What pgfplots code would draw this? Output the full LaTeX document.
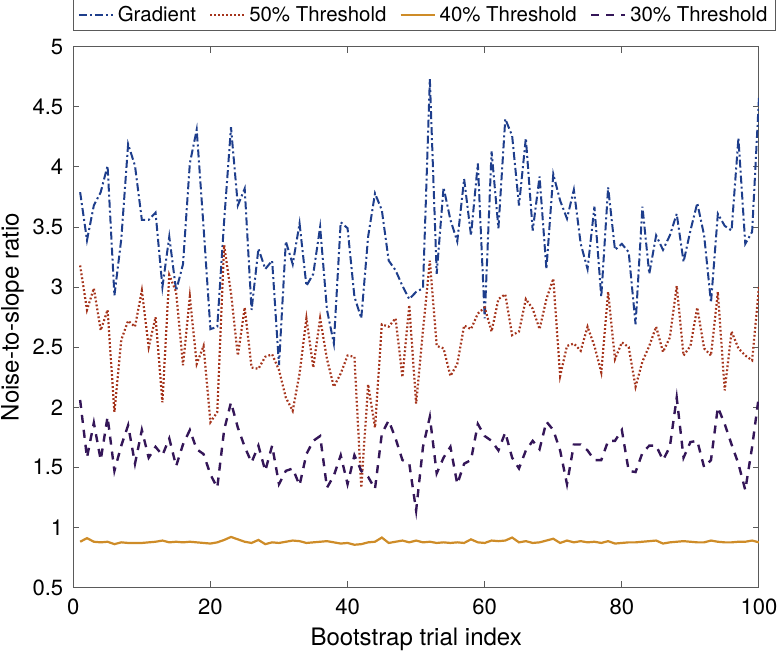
\documentclass[border=0pt]{standalone}
\usepackage{fontspec}
\setmainfont{TeX Gyre Heros}
\usepackage{pgfplots}
\usepackage{pgfplotstable}
\pgfplotsset{compat=1.18}
\definecolor{cgrad}{RGB}{30,62,140}
\definecolor{cfifty}{RGB}{165,52,28}
\definecolor{cforty}{RGB}{206,140,40}
\definecolor{cthirty}{RGB}{52,22,88}
\definecolor{caxis}{RGB}{90,90,90}

\pgfplotstableread{
i G H F T
1 3.79 3.18 0.88 2.06
2 3.39 2.81 0.91 1.58
3 3.68 2.99 0.88 1.87
4 3.79 2.64 0.875 1.56
5 4.01 2.81 0.88 1.92
6 2.93 1.96 0.86 1.47
7 3.40 2.56 0.875 1.68
8 4.19 2.72 0.87 1.85
9 4.01 2.67 0.87 1.53
10 3.56 2.97 0.87 1.81
11 3.56 2.50 0.875 1.58
12 3.62 2.75 0.88 1.67
13 3.00 2.04 0.89 1.60
14 3.42 3.10 0.875 1.74
15 2.97 2.96 0.88 1.51
16 3.19 2.35 0.875 1.69
17 4.03 2.92 0.88 1.81
18 4.31 2.36 0.875 1.65
19 3.50 2.51 0.87 1.61
20 2.65 1.875 0.865 1.44
21 2.67 1.96 0.875 1.33
22 3.55 3.35 0.895 1.81
23 4.33 2.95 0.92 2.04
24 3.68 2.43 0.90 1.83
25 3.82 2.83 0.88 1.67
26 2.81 2.33 0.87 1.54
27 3.32 2.32 0.895 1.68
28 3.15 2.42 0.86 1.47
29 3.22 2.44 0.875 1.68
30 2.35 2.31 0.87 1.36
31 3.38 2.08 0.88 1.47
32 3.19 1.97 0.89 1.49
33 3.53 2.28 0.885 1.35
34 3.01 2.74 0.87 1.61
35 3.11 2.33 0.875 1.72
36 3.50 2.74 0.88 1.76
37 2.81 2.40 0.885 1.33
38 2.53 2.17 0.875 1.43
39 3.54 2.28 0.865 1.60
40 3.49 2.43 0.87 1.36
41 2.92 2.42 0.855 1.60
42 2.74 1.33 0.86 1.47
43 3.42 2.19 0.875 1.42
44 3.78 1.83 0.88 1.32
45 3.64 2.69 0.915 1.78
46 3.22 2.67 0.87 1.89
47 3.14 2.74 0.88 1.74
48 3.01 2.25 0.89 1.56
49 2.90 2.85 0.875 1.53
50 2.96 2.03 0.89 1.14
51 2.99 2.64 0.875 1.67
52 4.73 3.22 0.88 1.92
53 3.11 2.51 0.87 1.45
54 3.83 2.49 0.875 1.58
55 3.56 2.26 0.87 1.67
56 3.38 2.36 0.875 1.36
57 3.90 2.68 0.87 1.53
58 3.43 2.65 0.90 1.56
59 4.03 2.78 0.875 1.86
60 2.74 2.83 0.87 1.76
61 4.13 2.63 0.89 1.72
62 3.49 2.90 0.885 1.64
63 4.40 2.94 0.89 1.79
64 4.26 2.60 0.915 1.58
65 3.68 2.63 0.875 1.49
66 4.24 2.90 0.885 1.64
67 3.47 2.82 0.87 1.72
68 3.92 2.65 0.875 1.65
69 3.15 2.90 0.89 1.88
70 3.94 3.07 0.905 1.81
71 3.72 2.26 0.87 1.64
72 3.57 2.51 0.89 1.36
73 3.81 2.53 0.875 1.69
74 3.36 2.47 0.885 1.69
75 3.15 2.67 0.875 1.64
76 3.67 2.51 0.88 1.56
77 2.92 2.29 0.87 1.56
78 3.83 2.96 0.885 1.72
79 3.31 2.40 0.865 1.72
80 3.36 2.54 0.87 1.81
81 3.29 2.50 0.875 1.47
82 2.69 2.17 0.875 1.46
83 3.67 2.38 0.88 1.62
84 3.11 2.51 0.885 1.68
85 3.43 2.67 0.89 1.68
86 3.31 2.46 0.865 1.56
87 3.43 2.58 0.875 1.67
88 3.61 3.01 0.88 2.08
89 3.21 2.43 0.885 1.58
90 3.47 2.51 0.88 1.71
91 3.70 2.83 0.875 1.72
92 3.43 2.49 0.875 1.50
93 2.87 2.43 0.89 1.56
94 3.61 2.96 0.88 2.00
95 3.51 2.14 0.875 1.86
96 3.47 2.63 0.875 1.69
97 4.24 2.49 0.88 1.53
98 3.36 2.43 0.88 1.31
99 3.46 2.39 0.89 1.67
100 4.58 3.00 0.875 2.10
}\datatable

\begin{document}
\begin{tikzpicture}
\begin{axis}[
  name=ax,
  scale only axis,
  width=342.5pt, height=270pt,
  xmin=0, xmax=100, ymin=0.5, ymax=5,
  xtick={0,20,40,60,80,100},
  ytick={0.5,1,1.5,2,2.5,3,3.5,4,4.5,5},
  tick align=inside,
  major tick length=3pt,
  axis line style={caxis, line width=0.5pt},
  every tick/.style={caxis, line width=0.5pt},
  /pgf/number format/assume math mode=true,
  tick label style={font=\fontsize{11}{13}\selectfont},
  label style={font=\fontsize{12}{14}\selectfont},
  xlabel={Bootstrap trial index},
  ylabel={Noise-to-slope ratio},
  xticklabel style={yshift=-2pt},
  yticklabel style={xshift=-1.5pt},
  xlabel style={yshift=0pt},
  ylabel style={yshift=-2.5pt},
  legend columns=4,
  legend style={at={(0,1)}, anchor=south west, yshift=7.8pt,
    draw=caxis, line width=0.5pt, font=\fontsize{10.2}{12}\selectfont,
    inner ysep=1.2pt, inner xsep=2pt,
    /tikz/every even column/.append style={column sep=4.5pt}},
  legend image code/.code={\draw[#1] (0pt,0pt) -- (17pt,0pt);},
]
\addplot[cgrad, line width=1pt, dash pattern=on 4pt off 1.5pt on 1pt off 1.5pt] table[x=i, y=G] {\datatable};
\addlegendentry{Gradient}
\addplot[cfifty, line width=1.1pt, dash pattern=on 0.9pt off 1.1pt] table[x=i, y=H] {\datatable};
\addlegendentry{50\% Threshold}
\addplot[cforty, line width=1.1pt] table[x=i, y=F] {\datatable};
\addlegendentry{40\% Threshold}
\addplot[cthirty, line width=1.2pt, dash pattern=on 4pt off 3.5pt] table[x=i, y=T] {\datatable};
\addlegendentry{30\% Threshold}
\end{axis}
\pgfresetboundingbox
\path ([shift={(-36.6pt,-34.5pt)}]ax.south west) rectangle ([shift={(10.5pt,23.4pt)}]ax.north east);
\end{tikzpicture}
\end{document}
